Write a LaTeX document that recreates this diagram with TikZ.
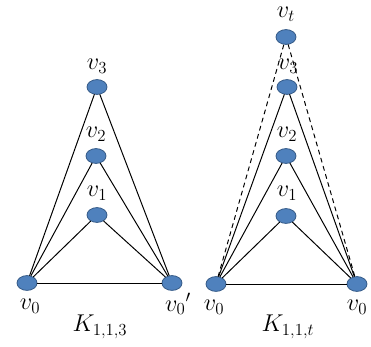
\documentclass[tikz,border=0pt]{standalone}
\usetikzlibrary{shapes.geometric}
\definecolor{vfill}{HTML}{4F81BD}
\definecolor{vline}{HTML}{385D8A}
\begin{document}
\begin{tikzpicture}[x=0.025cm,y=-0.025cm,line cap=round,line join=round,
  vtx/.style={ellipse,fill=vfill,draw=vline,line width=0.6pt,minimum width=0.5cm,minimum height=0.37cm,inner sep=0pt},
  lbl/.style={font=\LARGE,inner sep=0.6pt}]
  \useasboundingbox (0,0) rectangle (371,347);
  % K_{1,1,3}
  \node[vtx] (a0) at (27,283) {};
  \node[vtx] (a0p) at (172,283) {};
  \node[vtx] (a1) at (97,215) {};
  \node[vtx] (a2) at (96,156) {};
  \node[vtx] (a3) at (97,87) {};
  \draw[line width=0.7pt] (a0) -- (a1) -- (a0p);
  \draw[line width=0.7pt] (a0) -- (a2) -- (a0p);
  \draw[line width=0.7pt] (a0) -- (a3) -- (a0p);
  \draw[line width=0.7pt] (a0) -- (a0p);
  \node[lbl] (la1) at (97,193) {$v_1$};
  \node[lbl] (la2) at (96,134) {$v_2$};
  \node[lbl] (la3) at (97,66) {$v_3$};
  \node[lbl] (la0) at (30,306) {$v_0$};
  \node[lbl] (la0p) at (178,304) {$v_0{}'$};
  \node[lbl] (ka) at (100,327) {$K_{1,1,3}$};
  % K_{1,1,t}
  \node[vtx] (b0) at (216,284) {};
  \node[vtx] (b0p) at (357,284) {};
  \node[vtx] (b1) at (286,216) {};
  \node[vtx] (b2) at (286,156) {};
  \node[vtx] (b3) at (287,87) {};
  \node[vtx] (bt) at (286,37) {};
  \draw[line width=0.7pt] (b0) -- (b1) -- (b0p);
  \draw[line width=0.7pt] (b0) -- (b2) -- (b0p);
  \draw[line width=0.7pt] (b0) -- (b3) -- (b0p);
  \draw[line width=0.7pt] (b0) -- (b0p);
  \draw[line width=0.7pt,dashed] (b0) -- (bt) -- (b0p);
  \node[lbl] (lb1) at (287,193) {$v_1$};
  \node[lbl] (lb2) at (287,134) {$v_2$};
  \node[lbl] (lb3) at (288,66) {$v_3$};
  \node[lbl] (lbt) at (286,14) {$v_t$};
  \node[lbl] (lb0) at (214,307) {$v_0$};
  \node[lbl] (lb0p) at (357,307) {$v_0$};
  \node[lbl] (kb) at (288,327) {$K_{1,1,t}$};
\end{tikzpicture}
\end{document}
